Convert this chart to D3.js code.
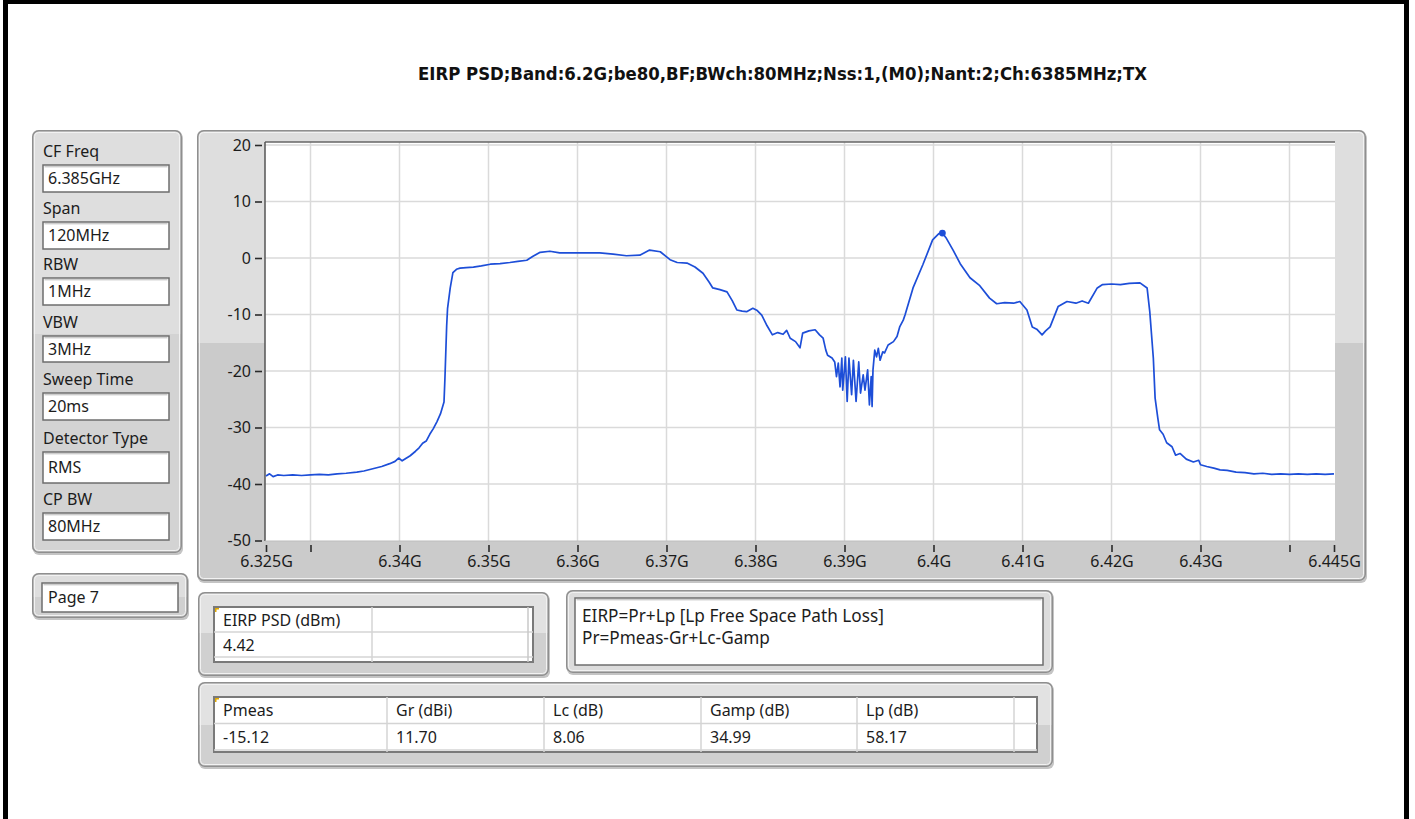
<!DOCTYPE html>
<html>
<head>
<meta charset="utf-8">
<script src="https://cdn.jsdelivr.net/npm/d3@7"></script>
<style>
  body { margin: 0; background: #ffffff; }
  svg text { font-family: "Noto Sans", "Open Sans", sans-serif; fill: #1c1c1c; }
</style>
</head>
<body>
<script>
var titleText = "EIRP PSD;Band:6.2G;be80,BF;BWch:80MHz;Nss:1,(M0);Nant:2;Ch:6385MHz;TX";

// trace: frequency (MHz) and EIRP PSD (dBm)
var freqMHz = [6325.0, 6325.4, 6325.8, 6326.3, 6327.0, 6328.0, 6329.0, 6330.0, 6331.0, 6332.0,
  6333.0, 6334.0, 6335.2, 6336.0, 6337.0, 6338.0, 6338.9, 6339.5, 6339.9, 6340.3,
  6341.2, 6341.8, 6342.2, 6342.6, 6343.0, 6343.4, 6343.8, 6344.2, 6344.6, 6345.0,
  6345.1, 6345.3, 6345.4, 6345.7, 6346.0, 6346.4, 6346.8, 6347.5, 6348.3, 6349.2,
  6350.2, 6351.3, 6352.4, 6353.3, 6354.3, 6355.0, 6355.8, 6356.9, 6358.0, 6359.5,
  6361.4, 6362.5, 6364.0, 6365.5, 6367.0, 6368.1, 6369.3, 6370.4, 6371.2, 6372.3,
  6373.2, 6374.1, 6374.8, 6375.2, 6376.0, 6376.8, 6377.4, 6377.9, 6378.5, 6379.0,
  6379.7, 6380.2, 6380.7, 6381.3, 6381.9, 6382.5, 6383.1, 6383.5, 6383.9, 6384.5,
  6385.0, 6385.3, 6386.0, 6386.7, 6387.2, 6387.6, 6387.9, 6388.1, 6388.6, 6388.9,
  6389.1, 6389.3, 6389.5, 6389.7, 6389.8, 6390.1, 6390.3, 6390.5, 6390.8, 6391.0,
  6391.3, 6391.6, 6391.8, 6392.1, 6392.3, 6392.6, 6392.8, 6393.0, 6393.1, 6393.2,
  6393.4, 6393.6, 6393.8, 6394.0, 6394.3, 6394.5, 6394.9, 6395.5, 6395.9, 6396.2,
  6396.6, 6396.8, 6397.7, 6398.8, 6399.9, 6400.6, 6401.0, 6401.4, 6402.2, 6403.0,
  6404.1, 6405.2, 6406.3, 6407.1, 6408.0, 6409.0, 6409.7, 6410.5, 6411.1, 6411.6,
  6412.2, 6412.6, 6413.1, 6414.0, 6415.0, 6416.0, 6416.7, 6417.4, 6418.4, 6419.0,
  6420.0, 6421.0, 6422.0, 6423.2, 6424.0, 6424.3, 6424.7, 6424.9, 6425.2, 6425.4,
  6425.8, 6426.2, 6426.8, 6427.2, 6427.7, 6428.4, 6429.2, 6429.8, 6430.0, 6430.7,
  6431.5, 6432.2, 6433.0, 6434.0, 6435.0, 6436.0, 6437.0, 6438.0, 6439.0, 6440.0,
  6441.0, 6442.0, 6443.0, 6444.0, 6445.0];
var psdDbm = [-38.6, -38.2, -38.7, -38.4, -38.5, -38.4, -38.5, -38.4, -38.3, -38.4,
  -38.2, -38.1, -37.9, -37.7, -37.3, -36.9, -36.4, -36.0, -35.4, -35.9,
  -35.0, -34.2, -33.6, -32.8, -32.4, -31.2, -30.2, -29.0, -27.6, -25.5,
  -21.5, -12.0, -8.9, -5.3, -2.6, -2.0, -1.8, -1.7, -1.6, -1.4,
  -1.1, -1.0, -0.8, -0.6, -0.4, 0.3, 1.0, 1.2, 0.9, 0.9,
  0.9, 0.9, 0.7, 0.4, 0.5, 1.4, 1.1, -0.3, -0.8, -0.9,
  -1.6, -2.7, -4.3, -5.3, -5.6, -6.0, -7.6, -9.2, -9.4, -9.5,
  -8.9, -9.3, -10.1, -12.0, -13.6, -13.2, -13.5, -12.8, -14.2, -14.8,
  -15.9, -13.3, -12.9, -12.7, -13.6, -14.2, -16.3, -17.2, -17.7, -18.4,
  -21.0, -18.6, -22.8, -17.7, -23.4, -17.5, -25.4, -17.7, -24.2, -18.1,
  -25.4, -18.4, -23.9, -20.7, -23.4, -19.8, -26.0, -21.0, -26.3, -19.8,
  -16.3, -17.5, -16.0, -18.1, -16.6, -16.8, -15.4, -14.8, -13.9, -12.2,
  -11.0, -10.1, -5.3, -1.2, 3.2, 4.3, 4.42, 3.6, 1.4, -1.0,
  -3.5, -4.9, -7.1, -8.1, -7.9, -8.0, -7.7, -9.2, -12.2, -12.6,
  -13.6, -12.9, -12.2, -8.6, -7.7, -8.0, -7.6, -8.0, -5.3, -4.7,
  -4.6, -4.7, -4.5, -4.4, -5.3, -9.5, -17.7, -24.8, -28.3, -30.4,
  -31.2, -32.7, -33.4, -34.9, -34.6, -35.6, -36.1, -35.8, -36.6, -36.9,
  -37.2, -37.5, -37.6, -37.9, -38.0, -38.2, -38.1, -38.3, -38.2, -38.3,
  -38.2, -38.3, -38.2, -38.3, -38.2];

var peakFreq = 6401.0, peakValue = 4.42;

var yTicks = [-50, -40, -30, -20, -10, 0, 10, 20];
var yTickLabels = ["-50", "-40", "-30", "-20", "-10", "0", "10", "20"];
var xTicks = [6325, 6330, 6340, 6350, 6360, 6370, 6380, 6390, 6400, 6410, 6420, 6430, 6440, 6445];
var xTickLabels = ["6.325G", "", "6.34G", "6.35G", "6.36G", "6.37G", "6.38G", "6.39G", "6.4G", "6.41G", "6.42G", "6.43G", "", "6.445G"];
var xGrid = [6330, 6340, 6350, 6360, 6370, 6380, 6390, 6400, 6410, 6420, 6430, 6440];

var settingLabels = ["CF Freq", "Span", "RBW", "VBW", "Sweep Time", "Detector Type", "CP BW"];
var settingValues = ["6.385GHz", "120MHz", "1MHz", "3MHz", "20ms", "RMS", "80MHz"];
var pageLabel = "Page 7";

var psdHeader = ["EIRP PSD (dBm)", ""];
var psdValues = ["4.42", ""];

var formulaLines = ["EIRP=Pr+Lp [Lp Free Space Path Loss]", "Pr=Pmeas-Gr+Lc-Gamp"];

var paramHeaders = ["Pmeas", "Gr (dBi)", "Lc (dB)", "Gamp (dB)", "Lp (dB)", ""];
var paramValues = ["-15.12", "11.70", "8.06", "34.99", "58.17", ""];

var fontSize = "16px";

// ---- svg ----
var svg = d3.select("body")
            .append("svg")
            .attr('width', 1415)
            .attr('height', 819);

var defs = svg.append("defs");
var clipCount = 0;

// page frame
svg.append("rect").attr('x', 3).attr('y', 0).attr('width', 5).attr('height', 819).attr('fill', "#000");
svg.append("rect").attr('x', 1404).attr('y', 0).attr('width', 5).attr('height', 819).attr('fill', "#000");
svg.append("rect").attr('x', 3).attr('y', 0).attr('width', 1406).attr('height', 4).attr('fill', "#000");

// title
svg.append("text")
   .text(titleText)
   .attr('x', 782.5)
   .attr('y', 80)
   .attr('text-anchor', "middle")
   .attr('textLength', 729)
   .attr('lengthAdjust', "spacingAndGlyphs")
   .style('font-family', "'DejaVu Sans Condensed', 'Liberation Sans Narrow', sans-serif")
   .style('font-weight', "bold")
   .style('font-size', "17.5px")
   .style('fill', "#111");

// LabVIEW-ish raised panel: light upper part, darker lower part
function drawPanel(x, y, w, h, splitY, light, dark) {
    var g = svg.append("g");
    var id = "pclip" + (clipCount++);
    defs.append("clipPath").attr('id', id)
        .append("rect").attr('x', x).attr('y', y).attr('width', w).attr('height', h).attr('rx', 6);
    // drop shadow
    g.append("rect")
     .attr('x', x + 1).attr('y', y + 2).attr('width', w).attr('height', h).attr('rx', 6)
     .attr('fill', "#c4c4c4");
    g.append("rect")
     .attr('x', x).attr('y', y).attr('width', w).attr('height', h).attr('rx', 6)
     .attr('fill', light || "#dfdfdf");
    if (splitY != null) {
        g.append("rect")
         .attr('clip-path', "url(#" + id + ")")
         .attr('x', x).attr('y', splitY).attr('width', w).attr('height', y + h - splitY)
         .attr('fill', dark || "#cdcdcd");
    }
    g.append("rect")
     .attr('x', x + 0.75).attr('y', y + 0.75).attr('width', w - 1.5).attr('height', h - 1.5).attr('rx', 6)
     .attr('fill', "none").attr('stroke', "#8f8f8f").attr('stroke-width', 1.5);
    g.append("rect")
     .attr('x', x + 2.5).attr('y', y + 2.5).attr('width', w - 5).attr('height', h - 5).attr('rx', 4)
     .attr('fill', "none").attr('stroke', "#f2f2f2").attr('stroke-width', 1);
    return g;
}

// sunken white box
function drawBox(x, y, w, h) {
    svg.append("rect")
       .attr('x', x).attr('y', y).attr('width', w).attr('height', h)
       .attr('fill', "#fff").attr('stroke', "#6e6e6e").attr('stroke-width', 1.5);
    svg.append("line")
       .attr('x1', x + 1.5).attr('y1', y + 1.8).attr('x2', x + w - 1.5).attr('y2', y + 1.8)
       .attr('stroke', "#b8b8b8").attr('stroke-width', 1);
}

// ---- left settings panel ----
drawPanel(32, 130, 150, 423, 334, "#dedede", "#d3d3d3");
var boxTops = [165, 222, 278, 336, 393, 452, 513];
var boxHeights = [27, 27, 27, 26, 27, 31, 27];
settingLabels.forEach(function(lab, i) {
    svg.append("text")
       .text(lab)
       .attr('x', 43)
       .attr('y', boxTops[i] - 8)
       .style('font-size', fontSize);
    drawBox(43, boxTops[i], 126, boxHeights[i]);
    svg.append("text")
       .text(settingValues[i])
       .attr('x', 48)
       .attr('y', boxTops[i] + boxHeights[i] / 2 + 5.5)
       .style('font-size', fontSize);
});

drawPanel(32, 573, 156, 45, 597, "#dedede", "#d0d0d0");
drawBox(42, 583, 136, 29);
svg.append("text").text(pageLabel).attr('x', 48).attr('y', 603).style('font-size', fontSize);

// ---- graph ----
var plot = {left: 265, right: 1335, top: 142, bottom: 541};
drawPanel(197, 130, 1169, 451, 343, "#dedede", "#cbcbcb");
svg.append("rect")
   .attr('x', plot.left).attr('y', plot.top)
   .attr('width', plot.right - plot.left).attr('height', plot.bottom - plot.top)
   .attr('fill', "#fff");

var xScale = d3.scaleLinear().domain([6325, 6445]).range([266, 1334]);
var yScale = d3.scaleLinear().domain([-50, 20]).range([540.5, 145]);

var grid = svg.append("g");
grid.selectAll("line.vg")
    .data(xGrid)
    .enter()
    .append("line")
    .attr('class', "vg")
    .attr('x1', function(d){ return xScale(d); })
    .attr('x2', function(d){ return xScale(d); })
    .attr('y1', plot.top)
    .attr('y2', plot.bottom)
    .attr('stroke', "#dadada")
    .attr('stroke-width', 1.5);
grid.selectAll("line.hg")
    .data(yTicks.filter(function(d){ return d > -50; }))
    .enter()
    .append("line")
    .attr('class', "hg")
    .attr('x1', plot.left)
    .attr('x2', plot.right)
    .attr('y1', function(d){ return yScale(d); })
    .attr('y2', function(d){ return yScale(d); })
    .attr('stroke', "#dadada")
    .attr('stroke-width', 1.5);

// frame lines of plot area
svg.append("line").attr('x1', plot.left).attr('y1', plot.top).attr('x2', plot.right).attr('y2', plot.top)
   .attr('stroke', "#666").attr('stroke-width', 1.5);
svg.append("line").attr('x1', plot.left).attr('y1', plot.top).attr('x2', plot.left).attr('y2', plot.bottom)
   .attr('stroke', "#555").attr('stroke-width', 1.5);
svg.append("line").attr('x1', plot.left).attr('y1', plot.bottom).attr('x2', plot.right).attr('y2', plot.bottom)
   .attr('stroke', "#bdbdbd").attr('stroke-width', 1);

// axes
var yAxis = svg.append("g")
   .attr('transform', "translate(262,0)")
   .call(d3.axisLeft(yScale)
           .tickValues(yTicks)
           .tickSize(7)
           .tickPadding(4)
           .tickFormat(function(d, i){ return yTickLabels[i]; }));
var xAxis = svg.append("g")
   .attr('transform', "translate(0,545)")
   .call(d3.axisBottom(xScale)
           .tickValues(xTicks)
           .tickSize(7)
           .tickPadding(4)
           .tickFormat(function(d, i){ return xTickLabels[i]; }));
[yAxis, xAxis].forEach(function(ax) {
    ax.select("path.domain").attr('display', "none");
    ax.selectAll("g.tick line").attr('stroke', "#2a2a2a").attr('stroke-width', 1.6);
    ax.selectAll("g.tick text")
      .style('font-family', "'Noto Sans', sans-serif")
      .style('font-size', fontSize)
      .style('fill', "#1c1c1c");
});

// trace
var trace = freqMHz.map(function(f, i){ return [f, psdDbm[i]]; });
var line = d3.line()
    .x(function(d){ return xScale(d[0]); })
    .y(function(d){ return yScale(d[1]); });
svg.append("path")
   .datum(trace)
   .attr('d', line)
   .attr('fill', "none")
   .attr('stroke', "#1d4ed8")
   .attr('stroke-width', 1.7)
   .attr('stroke-linejoin', "round");
svg.append("circle")
   .attr('cx', xScale(peakFreq))
   .attr('cy', yScale(peakValue))
   .attr('r', 3.4)
   .attr('fill', "#1d4ed8");

// ---- EIRP PSD table ----
drawPanel(198, 592, 351, 84, 633, "#e2e2e2", "#d0d0d0");
function drawTable(x, y, w, rowH, cols, header, values, extraBottom) {
    var h = rowH * 2 + extraBottom;
    svg.append("rect")
       .attr('x', x).attr('y', y).attr('width', w).attr('height', h)
       .attr('fill', "#fff").attr('stroke', "#7a7a7a").attr('stroke-width', 2);
    svg.append("line")
       .attr('x1', x).attr('x2', x + w).attr('y1', y + rowH).attr('y2', y + rowH)
       .attr('stroke', "#d4d4d4").attr('stroke-width', 1.5);
    if (extraBottom > 0) {
        svg.append("line")
           .attr('x1', x).attr('x2', x + w).attr('y1', y + rowH * 2).attr('y2', y + rowH * 2)
           .attr('stroke', "#d4d4d4").attr('stroke-width', 1.5);
    }
    cols.forEach(function(cx, i) {
        if (i > 0) {
            svg.append("line")
               .attr('x1', cx).attr('x2', cx).attr('y1', y).attr('y2', y + h)
               .attr('stroke', "#d4d4d4").attr('stroke-width', 1.5);
        }
        svg.append("text").text(header[i]).attr('x', cx + 9).attr('y', y + rowH / 2 + 6).style('font-size', fontSize);
        svg.append("text").text(values[i]).attr('x', cx + 9).attr('y', y + rowH * 1.5 + 6).style('font-size', fontSize);
    });
    // small corner marker
    svg.append("rect").attr('x', x + 1).attr('y', y + 1).attr('width', 4).attr('height', 1.5).attr('fill', "#e0a800");
    svg.append("rect").attr('x', x + 1).attr('y', y + 1).attr('width', 1.5).attr('height', 4).attr('fill', "#e0a800");
}
drawTable(214, 607, 319, 25, [214, 372], psdHeader, psdValues, 5);
svg.append("line").attr('x1', 528).attr('x2', 528).attr('y1', 607).attr('y2', 662)
   .attr('stroke', "#c8c8c8").attr('stroke-width', 1.5);

// ---- formula box ----
drawPanel(566, 590, 487, 83, null, "#dcdcdc");
drawBox(575, 598, 468, 67);
formulaLines.forEach(function(t, i) {
    svg.append("text").text(t).attr('x', 582).attr('y', 622 + i * 22).style('font-size', "17.2px");
});

// ---- parameter table ----
drawPanel(198, 682, 855, 85, 725, "#e2e2e2", "#d0d0d0");
drawTable(214, 697, 823, 26.5, [214, 387, 544, 701, 857, 1014], paramHeaders, paramValues, 2);
</script>
</body>
</html>
